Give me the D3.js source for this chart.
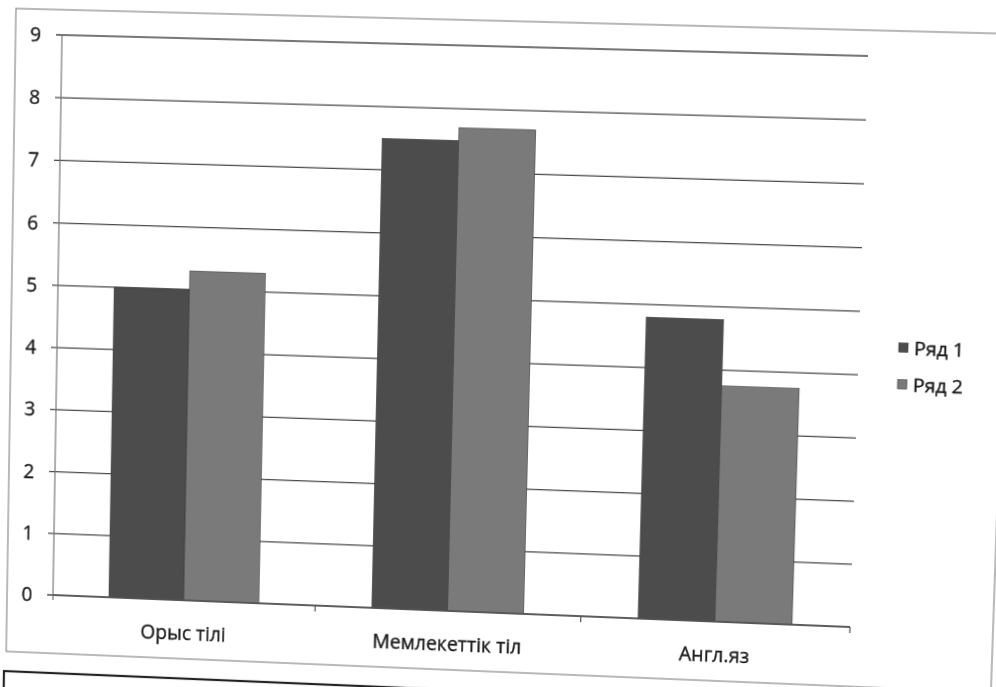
<!DOCTYPE html>
<html>
<head>
<meta charset="utf-8">
<script src="https://cdn.jsdelivr.net/npm/d3@7"></script>
<style>
  html, body { margin: 0; padding: 0; background: #ffffff; overflow: hidden; }
  svg { display: block; }
  text { font-family: "Open Sans", "Noto Sans", sans-serif; fill: #1a1a1a; stroke: #1a1a1a; stroke-width: 0.35px; }
</style>
</head>
<body>
<script>
// ---- data ----
const categories = ["Орыс тілі", "Мемлекеттік тіл", "Англ.яз"];
const seriesNames = ["Ряд 1", "Ряд 2"];
const series1 = [5.0, 7.5, 4.8];
const series2 = [5.3, 7.7, 3.75];
const yTicks = [0, 1, 2, 3, 4, 5, 6, 7, 8, 9];
const seriesColors = ["#4c4c4c", "#7a7a7a"];

// ---- layout ----
const W = 996, H = 687;
const plot = { left: 53, right: 852, top: 35, bottom: 595 };

const svg = d3.select("body").append("svg").attr("width", W).attr("height", H)
  .style("overflow", "visible");
svg.append("rect").attr("x", -60).attr("y", -60).attr("width", W + 120).attr("height", H + 120)
  .attr("fill", "#ffffff");

// The scanned page is tilted / slightly in perspective: one projective view
// transform maps the flat chart onto the scan (plot corners -> scanned corners).
function homography(src, dst) {
  const A = [], b = [];
  for (let i = 0; i < 4; i++) {
    const [x, y] = src[i], [u, v] = dst[i];
    A.push([x, y, 1, 0, 0, 0, -u * x, -u * y]); b.push(u);
    A.push([0, 0, 0, x, y, 1, -v * x, -v * y]); b.push(v);
  }
  const n = 8;
  for (let c = 0; c < n; c++) {
    let p = c;
    for (let r = c + 1; r < n; r++) if (Math.abs(A[r][c]) > Math.abs(A[p][c])) p = r;
    [A[c], A[p]] = [A[p], A[c]]; [b[c], b[p]] = [b[p], b[c]];
    for (let r = 0; r < n; r++) {
      if (r === c) continue;
      const f = A[r][c] / A[c][c];
      for (let k = c; k < n; k++) A[r][k] -= f * A[c][k];
      b[r] -= f * b[c];
    }
  }
  return b.map((v, i) => v / A[i][i]);
}
const hsrc = [[plot.left, plot.top], [plot.right, plot.top], [plot.right, plot.bottom], [plot.left, plot.bottom]];
const hdst = [[62, 35], [868, 56], [850, 627], [53, 595]];
const h = homography(hsrc, hdst);
svg.style("transform-origin", "0 0")
  .style("transform", `matrix3d(${h[0]},${h[3]},0,${h[6]},${h[1]},${h[4]},0,${h[7]},0,0,1,0,${h[2]},${h[5]},0,1)`);

const g = svg.append("g");

// chart frame
g.append("rect").attr("x", 6).attr("y", 10).attr("width", 986).attr("height", 644)
  .attr("fill", "#ffffff").attr("stroke", "#8a8a8a").attr("stroke-width", 1.2);

// next frame below (partially visible on the scan)
g.append("rect").attr("x", 4).attr("y", 674).attr("width", 1010).attr("height", 60)
  .attr("fill", "none").attr("stroke", "#222").attr("stroke-width", 2.2);

const y = d3.scaleLinear().domain([0, 9]).range([plot.bottom, plot.top]);
const x0 = d3.scaleBand().domain(categories).range([plot.left, plot.right]).padding(0);
const x1 = d3.scaleBand().domain(seriesNames).range([0, x0.bandwidth()])
  .paddingInner(0).paddingOuter(0.75);

// gridlines
g.append("g").selectAll("line").data(yTicks).join("line")
  .attr("x1", plot.left - 6).attr("x2", plot.right)
  .attr("y1", d => y(d)).attr("y2", d => y(d))
  .attr("stroke", "#4a4a4a").attr("stroke-width", 1.3);

// y axis line
g.append("line").attr("x1", plot.left).attr("x2", plot.left)
  .attr("y1", y(9)).attr("y2", y(0) + 5)
  .attr("stroke", "#777").attr("stroke-width", 1.2);

// y tick labels
g.append("g").selectAll("text").data(yTicks).join("text")
  .attr("x", 32).attr("y", d => y(d)).attr("dy", "0.36em")
  .attr("text-anchor", "end").attr("font-size", 19.5)
  .text(d => d);

// bars
const rows = categories.map((c, i) => ({ cat: c, vals: [series1[i], series2[i]] }));
const grp = g.append("g").selectAll("g").data(rows).join("g")
  .attr("transform", d => `translate(${x0(d.cat)},0)`);
grp.selectAll("rect").data(d => d.vals.map((v, j) => ({ s: seriesNames[j], v, j })))
  .join("rect")
  .attr("x", d => x1(d.s)).attr("width", x1.bandwidth())
  .attr("y", d => y(d.v)).attr("height", d => y(0) - y(d.v))
  .attr("fill", d => seriesColors[d.j])
  .attr("stroke", "#3a3a3a").attr("stroke-width", 0.6);

// x axis baseline + ticks
g.append("line").attr("x1", plot.left).attr("x2", plot.right)
  .attr("y1", y(0)).attr("y2", y(0)).attr("stroke", "#555").attr("stroke-width", 1.3);
const bounds = categories.map(c => x0(c) + x0.bandwidth());
g.append("g").selectAll("line").data(bounds).join("line")
  .attr("x1", d => d).attr("x2", d => d)
  .attr("y1", y(0)).attr("y2", y(0) + 6)
  .attr("stroke", "#555").attr("stroke-width", 1.2);

// category labels
g.append("g").selectAll("text").data(categories).join("text")
  .attr("x", d => x0(d) + x0.bandwidth() / 2).attr("y", y(0) + 33).attr("dy", "0.36em")
  .attr("text-anchor", "middle").attr("font-size", 19.5)
  .text(d => d);

// legend
const lg = g.append("g").attr("transform", "translate(891,318)");
const li = lg.selectAll("g").data(seriesNames).join("g")
  .attr("transform", (d, i) => `translate(0,${i * 36})`);
li.append("rect").attr("x", 0).attr("y", -4.5).attr("width", 9).attr("height", 9)
  .attr("fill", (d, i) => seriesColors[i]).attr("stroke", "#333").attr("stroke-width", 0.6);
li.append("text").attr("x", 15).attr("y", 0).attr("dy", "0.36em")
  .attr("font-size", 19).text(d => d);
</script>
</body>
</html>
